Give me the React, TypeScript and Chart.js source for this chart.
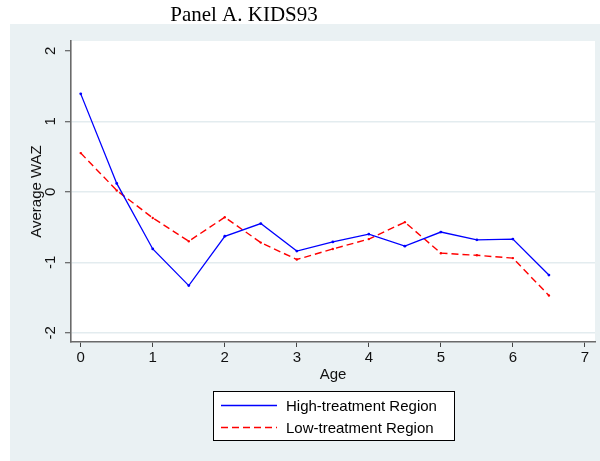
import React, { useEffect, useRef } from "react";
import { Chart, registerables } from "chart.js";

Chart.register(...registerables);

const chartTitle = "Panel A. KIDS93";
const ages = [0, 0.5, 1, 1.5, 2, 2.5, 3, 3.5, 4, 4.5, 5, 5.5, 6, 6.5];
const highTreatment = [1.39, 0.12, -0.81, -1.33, -0.63, -0.45, -0.84, -0.71, -0.6, -0.77, -0.57, -0.68, -0.67, -1.18];
const lowTreatment = [0.55, 0.02, -0.37, -0.7, -0.36, -0.72, -0.96, -0.81, -0.67, -0.43, -0.87, -0.9, -0.94, -1.47];
const seriesLabels = ["High-treatment Region", "Low-treatment Region"];
const xTicks = [0, 1, 2, 3, 4, 5, 6, 7];
const yTicks = [-2, -1, 0, 1, 2];
const xAxisTitle = "Age";
const yAxisTitle = "Average WAZ";

const SANS = "'Liberation Sans', Arial, Helvetica, sans-serif";
const SERIF = "'Liberation Serif', 'Times New Roman', serif";
const AXIS = "#444444";
const AXIS_LINE = "#6a6a6a";

const framePlugin = {
  id: "stataFrame",
  beforeDraw(chart: any) {
    const { ctx, chartArea } = chart;
    ctx.save();
    ctx.fillStyle = "#ffffff";
    ctx.fillRect(0, 0, chart.width, chart.height);
    ctx.fillStyle = "#eaf1f3";
    ctx.fillRect(10, 24, chart.width - 10, chart.height - 24);
    ctx.fillStyle = "#ffffff";
    ctx.fillRect(chartArea.left, chartArea.top, chartArea.right - chartArea.left, chartArea.bottom - chartArea.top);
    ctx.restore();
  },
  afterDraw(chart: any) {
    const { ctx } = chart;
    ctx.save();
    ctx.fillStyle = "#000000";
    ctx.font = `21px ${SERIF}`;
    ctx.textAlign = "center";
    ctx.textBaseline = "alphabetic";
    ctx.fillText(chartTitle, 244, 21);
    const bx = 213.5, by = 391.5, bw = 241, bh = 49;
    ctx.fillStyle = "#ffffff";
    ctx.fillRect(bx, by, bw, bh);
    ctx.strokeStyle = "#000000";
    ctx.lineWidth = 1;
    ctx.strokeRect(bx, by, bw, bh);
    const rows = [405.5, 427.5];
    chart.data.datasets.forEach((ds: any, i: number) => {
      const y = rows[i];
      ctx.beginPath();
      ctx.setLineDash(ds.borderDash || []);
      ctx.strokeStyle = ds.borderColor;
      ctx.lineWidth = 1.3;
      ctx.moveTo(221, y);
      ctx.lineTo(277, y);
      ctx.stroke();
      ctx.setLineDash([]);
      ctx.fillStyle = "#000000";
      ctx.font = `15px ${SANS}`;
      ctx.textAlign = "left";
      ctx.textBaseline = "middle";
      ctx.fillText(ds.label, 286, y + 1);
    });
    ctx.restore();
  },
};

export default function App() {
  const ref = useRef<HTMLCanvasElement | null>(null);
  useEffect(() => {
    if (!ref.current) return;
    const chart = new Chart(ref.current, {
      type: "line",
      data: {
        datasets: [
          {
            label: seriesLabels[0],
            data: ages.map((a, i) => ({ x: a, y: highTreatment[i] })),
            borderColor: "#0000ff",
            backgroundColor: "#0000ff",
            borderWidth: 1.3,
            pointRadius: 1.4,
            pointBorderWidth: 0,
            pointBackgroundColor: "#0000ff",
            tension: 0,
            fill: false,
          },
          {
            label: seriesLabels[1],
            data: ages.map((a, i) => ({ x: a, y: lowTreatment[i] })),
            borderColor: "#ff0000",
            backgroundColor: "#ff0000",
            borderWidth: 1.4,
            borderDash: [7, 4],
            pointRadius: 1.2,
            pointBorderWidth: 0,
            pointBackgroundColor: "#ff0000",
            tension: 0,
            fill: false,
          },
        ],
      },
      options: {
        responsive: false,
        animation: false,
        devicePixelRatio: 1,
        layout: { padding: { left: 10, top: 41, right: 5, bottom: 77 } },
        plugins: {
          legend: { display: false },
          title: { display: false },
          tooltip: { enabled: false },
        },
        scales: {
          x: {
            type: "linear",
            min: -0.135,
            max: 7.14,
            afterBuildTicks: (s: any) => {
              s.ticks = xTicks.map((v) => ({ value: v }));
            },
            afterFit: (s: any) => {
              s.height = 42;
            },
            ticks: {
              autoSkip: false,
              maxRotation: 0,
              padding: 2,
              color: "#111111",
              font: { family: SANS, size: 15 },
              callback: (v: any) => String(v),
            },
            grid: {
              drawOnChartArea: false,
              drawTicks: true,
              tickLength: 5,
              tickColor: AXIS,
              tickWidth: 1,
            },
            border: { display: true, color: AXIS_LINE, width: 1.6 },
            title: {
              display: true,
              text: xAxisTitle,
              color: "#111111",
              font: { family: SANS, size: 15 },
              padding: { top: 0, bottom: 0 },
            },
          },
          y: {
            type: "linear",
            min: -2.13,
            max: 2.14,
            afterBuildTicks: (s: any) => {
              s.ticks = yTicks.map((v) => ({ value: v }));
            },
            afterFit: (s: any) => {
              s.width = 61;
            },
            ticks: {
              autoSkip: false,
              minRotation: 90,
              maxRotation: 90,
              crossAlign: "center",
              padding: 7,
              color: "#111111",
              font: { family: SANS, size: 15 },
              callback: (v: any) => String(v),
            },
            grid: {
              color: (c: any) => (c.tick && c.tick.value === yTicks[yTicks.length - 1] ? "rgba(0,0,0,0)" : "#e3ecef"),
              lineWidth: 1.5,
              drawTicks: true,
              tickLength: 6,
              tickColor: AXIS,
              tickWidth: 1,
            },
            border: { display: true, color: AXIS_LINE, width: 1.6 },
            title: {
              display: true,
              text: yAxisTitle,
              color: "#111111",
              font: { family: SANS, size: 15 },
              padding: { top: 18, bottom: 0 },
            },
          },
        },
      },
      plugins: [framePlugin],
    } as any);
    return () => chart.destroy();
  }, []);
  return (
    <div style={{ position: "fixed", left: 0, top: 0, width: 600, height: 461 }}>
      <canvas ref={ref} width={600} height={461} style={{ width: 600, height: 461, display: "block" }} />
    </div>
  );
}
